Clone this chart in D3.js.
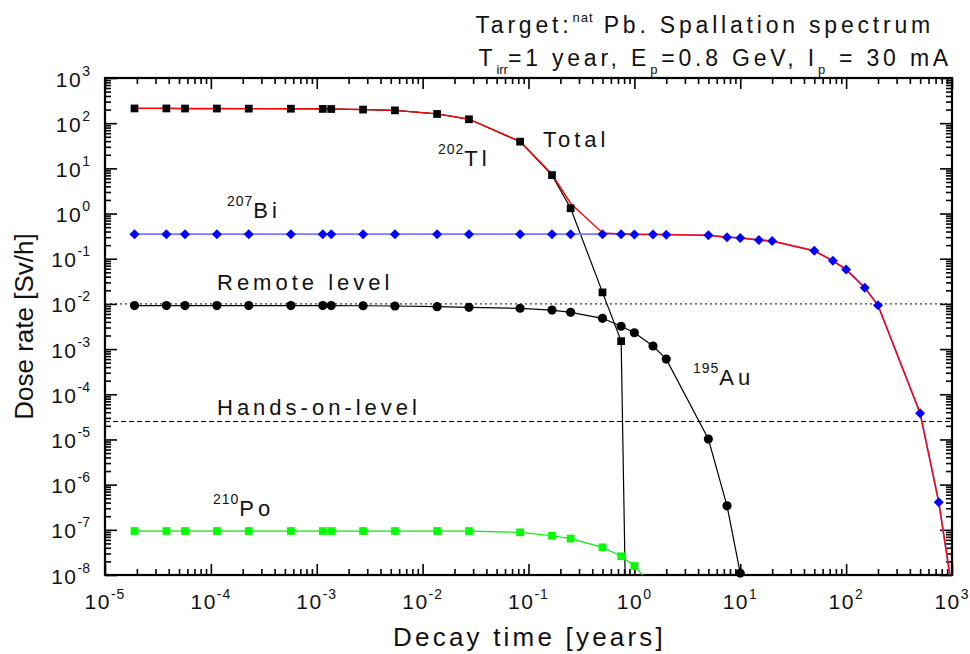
<!DOCTYPE html>
<html lang="en">
<head>
<meta charset="utf-8">
<title>Dose rate vs decay time</title>
<script src="https://cdn.jsdelivr.net/npm/d3@7"></script>
<style>
  body { margin: 0; background: #fff; }
  svg { display: block; font-family: "Liberation Sans", Arial, sans-serif; }
</style>
</head>
<body>
<script>
// decay times in years (10 min ... 1000 y)
var decayTime = [1.9e-5, 3.8e-5, 5.7e-5, 1.14e-4, 2.28e-4, 5.7e-4, 1.14e-3, 1.37e-3,
  2.74e-3, 5.48e-3, 0.0137, 0.0274, 0.0833, 0.1667, 0.25, 0.5, 0.75, 1,
  1.5, 2, 5, 7.5, 10, 15, 20, 50, 75, 100, 150, 200, 500, 750, 1000];

// dose rates [Sv/h]
var tl202 = [212, 212, 211, 211, 210, 209, 207, 206, 200, 192, 160, 122, 39, 7.1, 1.31, 0.018, 1.5e-3, 1e-20];
var bi207 = [0.35, 0.35, 0.35, 0.35, 0.35, 0.35, 0.35, 0.35, 0.35, 0.35, 0.35, 0.35, 0.35, 0.35, 0.35,
  0.35, 0.35, 0.345, 0.345, 0.34, 0.33, 0.30, 0.288, 0.26, 0.246, 0.150, 0.090, 0.058, 0.0229,
  0.0093, 3.8e-5, 4.1e-7, 5e-9];
var au195 = [9.2e-3, 9.2e-3, 9.2e-3, 9.2e-3, 9.2e-3, 9.2e-3, 9.2e-3, 9.2e-3, 9.1e-3, 9.0e-3,
  8.7e-3, 8.4e-3, 8.0e-3, 7.3e-3, 6.5e-3, 4.8e-3, 3.2e-3, 2.3e-3, 1.17e-3, 6.0e-4, 1.02e-5,
  3.4e-7, 1.1e-8];
var po210 = [9.4e-8, 9.4e-8, 9.4e-8, 9.4e-8, 9.4e-8, 9.4e-8, 9.4e-8, 9.4e-8, 9.4e-8, 9.4e-8,
  9.4e-8, 9.4e-8, 8.8e-8, 7.4e-8, 6.4e-8, 4.1e-8, 2.6e-8, 1.58e-8, 5.5e-9];
var total = [212.4, 212.4, 211.4, 211.4, 210.4, 209.4, 207.4, 206.4, 200.4, 192.4, 160.4, 122.4,
  39.4, 7.46, 1.67, 0.373, 0.355, 0.347, 0.346, 0.341, 0.33, 0.30, 0.288, 0.26, 0.246, 0.150,
  0.090, 0.058, 0.0229, 0.0093, 3.8e-5, 4.1e-7, 5e-9];

var remoteLevel = 1e-2;
var handsOnLevel = 2.5e-5;

var xMajor = [-5, -4, -3, -2, -1, 0, 1, 2, 3];
var yMajor = [-8, -7, -6, -5, -4, -3, -2, -1, 0, 1, 2, 3];

var w = 970, h = 654;
var pLeft = 105, pRight = 952, pTop = 78, pBottom = 575;

var svg = d3.select("body").append("svg")
  .attr("width", w)
  .attr("height", h);

var x = d3.scaleLog().domain([1e-5, 1e3]).range([pLeft, pRight]);
var y = d3.scaleLog().domain([1e-8, 1e3]).range([pBottom, pTop]);

function minors(exps) {
  var out = [];
  exps.slice(0, -1).forEach(function(e) {
    for (var k = 2; k <= 9; k++) out.push(k * Math.pow(10, e));
  });
  return out;
}
var xMinor = minors(xMajor), yMinor = minors(yMajor);
var xMajorV = xMajor.map(function(e) { return Math.pow(10, e); });
var yMajorV = yMajor.map(function(e) { return Math.pow(10, e); });

// ticks on all four sides, pointing inward
function drawAxis(axisFn, scale, vals, size, tx, ty) {
  svg.append("g")
    .attr("transform", "translate(" + tx + "," + ty + ")")
    .call(axisFn(scale).tickValues(vals).tickSize(size).tickFormat(""))
    .call(function(g) {
      g.select(".domain").remove();
      g.selectAll("line").attr("stroke", "#000").attr("stroke-width", 1.6);
    });
}
drawAxis(d3.axisBottom, x, xMinor, -6, 0, pBottom);
drawAxis(d3.axisBottom, x, xMajorV, -11, 0, pBottom);
drawAxis(d3.axisTop, x, xMinor, -6, 0, pTop);
drawAxis(d3.axisTop, x, xMajorV, -11, 0, pTop);
drawAxis(d3.axisLeft, y, yMinor, -6, pLeft, 0);
drawAxis(d3.axisLeft, y, yMajorV, -12, pLeft, 0);
drawAxis(d3.axisRight, y, yMinor, -6, pRight, 0);
drawAxis(d3.axisRight, y, yMajorV, -12, pRight, 0);

svg.append("rect")
  .attr("x", pLeft).attr("y", pTop)
  .attr("width", pRight - pLeft).attr("height", pBottom - pTop)
  .attr("fill", "none").attr("stroke", "#000").attr("stroke-width", 2.2);

// tick labels
svg.selectAll(".xlab").data(xMajor).enter().append("text")
  .attr("class", "xlab")
  .attr("x", function(e) { return x(Math.pow(10, e)); })
  .attr("y", pBottom + 34)
  .attr("text-anchor", "middle")
  .attr("font-size", 21).attr("letter-spacing", 1.5).attr("fill", "#111")
  .each(function(e) {
    var t = d3.select(this);
    t.append("tspan").text("10");
    t.append("tspan").attr("dy", -10).attr("font-size", 14).attr("letter-spacing", 1).text(e);
  });

svg.selectAll(".ylab").data(yMajor).enter().append("text")
  .attr("class", "ylab")
  .attr("x", 90)
  .attr("y", function(e) { return y(Math.pow(10, e)) + 8.5; })
  .attr("text-anchor", "end")
  .attr("font-size", 21).attr("letter-spacing", 1.5).attr("fill", "#111")
  .each(function(e) {
    var t = d3.select(this);
    t.append("tspan").text("10");
    t.append("tspan").attr("dy", -11).attr("font-size", 14).attr("letter-spacing", 0).text(e);
  });

// axis titles
svg.append("text")
  .attr("x", (pLeft + pRight) / 2 + 1).attr("y", 646)
  .attr("text-anchor", "middle")
  .attr("font-size", 26).attr("letter-spacing", 3.2).attr("fill", "#111")
  .text("Decay time [years]");

svg.append("text")
  .attr("transform", "translate(33," + ((pTop + pBottom) / 2) + ") rotate(-90)")
  .attr("text-anchor", "middle")
  .attr("font-size", 26).attr("fill", "#111")
  .text("Dose rate [Sv/h]");

// plot contents
svg.append("clipPath").attr("id", "clip")
  .append("rect").attr("x", pLeft).attr("y", pTop)
  .attr("width", pRight - pLeft).attr("height", pBottom - pTop);

var plot = svg.append("g").attr("clip-path", "url(#clip)");

// reference levels
plot.append("line")
  .attr("x1", pLeft).attr("x2", pRight)
  .attr("y1", y(remoteLevel)).attr("y2", y(remoteLevel))
  .attr("stroke", "#000").attr("stroke-width", 1).attr("stroke-dasharray", "2,3");
plot.append("line")
  .attr("x1", pLeft).attr("x2", pRight)
  .attr("y1", y(handsOnLevel)).attr("y2", y(handsOnLevel))
  .attr("stroke", "#000").attr("stroke-width", 1).attr("stroke-dasharray", "5,3");

function series(vals) {
  return vals.map(function(v, i) { return { t: decayTime[i], v: v }; });
}
var line = d3.line()
  .x(function(d) { return x(d.t); })
  .y(function(d) { return y(d.v); });

function drawLine(vals, color, width) {
  plot.append("path")
    .datum(series(vals))
    .attr("d", line)
    .attr("fill", "none")
    .attr("stroke", color)
    .attr("stroke-width", width);
}
drawLine(tl202, "#000", 1.2);
drawLine(au195, "#000", 1.2);
drawLine(po210, "#00ee00", 1.2);
drawLine(bi207, "#7a7aff", 1.8);
drawLine(total, "#ff0000", 1.4);

function inRange(d) { return d.v >= 1e-8 && d.v <= 1e3; }

function drawMarkers(vals, type, size, color, rot) {
  svg.append("g").selectAll("path")
    .data(series(vals).filter(inRange))
    .enter().append("path")
    .attr("d", d3.symbol().type(type).size(size))
    .attr("transform", function(d) {
      return "translate(" + x(d.t) + "," + y(d.v) + ") rotate(" + rot + ")";
    })
    .attr("fill", color);
}
drawMarkers(po210, d3.symbolSquare, 60, "#00ff00", 0);
drawMarkers(au195, d3.symbolCircle, 66, "#000", 0);
drawMarkers(tl202, d3.symbolSquare, 60, "#000", 0);
drawMarkers(bi207, d3.symbolSquare, 50, "#0000ff", 45);

// annotations
function label(px, py, sup, main) {
  var t = svg.append("text")
    .attr("x", px).attr("y", py)
    .attr("font-size", 22).attr("letter-spacing", 4).attr("fill", "#111");
  if (sup) {
    t.append("tspan").attr("font-size", 14).attr("letter-spacing", 1)
      .attr("dy", -12).text(sup);
    t.append("tspan").attr("dy", 12).text(main);
  } else {
    t.text(main);
  }
}
label(543, 147, null, "Total");
label(438, 166, "202", "Tl");
label(227, 218, "207", "Bi");
label(217, 290, null, "Remote level");
label(217, 415, null, "Hands-on-level");
label(213, 516, "210", "Po");
label(693, 385, "195", "Au");

// title
var t1 = svg.append("text")
  .attr("x", 934).attr("y", 33)
  .attr("text-anchor", "end")
  .attr("font-size", 23).attr("letter-spacing", 3.8).attr("fill", "#111");
t1.append("tspan").text("Target:");
t1.append("tspan").attr("font-size", 13).attr("dy", -11).attr("letter-spacing", 1).text("nat");
t1.append("tspan").attr("dy", 11).text(" Pb. Spallation spectrum");

var t2 = svg.append("text")
  .attr("x", 952).attr("y", 66)
  .attr("text-anchor", "end")
  .attr("font-size", 23).attr("letter-spacing", 3.8).attr("fill", "#111");
t2.append("tspan").text("T");
t2.append("tspan").attr("font-size", 13).attr("dy", 8).attr("letter-spacing", 0).text("irr");
t2.append("tspan").attr("dy", -8).text("=1 year, E");
t2.append("tspan").attr("font-size", 13).attr("dy", 8).text("p");
t2.append("tspan").attr("dy", -8).text("=0.8 GeV, I");
t2.append("tspan").attr("font-size", 13).attr("dy", 8).text("p");
t2.append("tspan").attr("dy", -8).text(" = 30 mA");
</script>
</body>
</html>
